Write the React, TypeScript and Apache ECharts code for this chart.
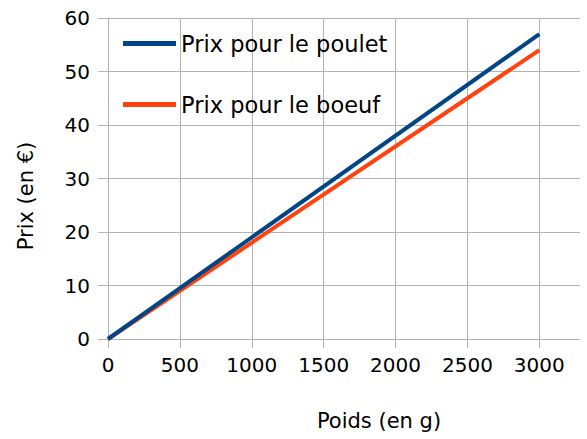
import React, { useEffect, useRef } from "react";
import * as echarts from "echarts";

const weights = [0, 3000];
const chickenPrices = [0, 57];
const beefPrices = [0, 54];
const seriesNames = ["Prix pour le poulet", "Prix pour le boeuf"];
const xTitle = "Poids (en g)";
const yTitle = "Prix (en €)";

const FONT = "DejaVu Sans";
const GRID_COLOR = "#b3b3b3";

export default function App() {
  const ref = useRef<HTMLDivElement>(null);
  useEffect(() => {
    if (!ref.current) return;
    const chart = echarts.init(ref.current, null, { renderer: "svg" });
    const chicken = weights.map((w, i) => [w, chickenPrices[i]]);
    const beef = weights.map((w, i) => [w, beefPrices[i]]);
    chart.setOption({
      animation: false,
      backgroundColor: "#ffffff",
      textStyle: { fontFamily: FONT },
      grid: { left: 108, right: 7, top: 18, bottom: 100, containLabel: false },
      legend: {
        orient: "vertical",
        left: 123,
        top: 32,
        padding: 0,
        itemWidth: 53,
        itemHeight: 5,
        itemGap: 38,
        icon: "rect",
        data: seriesNames,
        textStyle: { fontFamily: FONT, fontSize: 22.5, color: "#000", lineHeight: 22 },
      },
      xAxis: {
        type: "value",
        min: 0,
        max: 3283,
        interval: 500,
        axisLine: { show: true, lineStyle: { color: GRID_COLOR, width: 1 } },
        axisTick: { show: true, length: 9, lineStyle: { color: GRID_COLOR } },
        splitLine: { show: true, showMaxLine: false, lineStyle: { color: GRID_COLOR, width: 1 } },
        axisLabel: {
          margin: 16,
          fontSize: 20,
          color: "#000",
          fontFamily: FONT,
          showMaxLabel: false,
          formatter: (v: number) => (v % 500 === 0 ? String(v) : ""),
        },
      },
      yAxis: {
        type: "value",
        min: 0,
        max: 60,
        interval: 10,
        axisLine: { show: true, lineStyle: { color: GRID_COLOR, width: 1 } },
        axisTick: { show: true, length: 10, lineStyle: { color: GRID_COLOR } },
        splitLine: { show: true, lineStyle: { color: GRID_COLOR, width: 1 } },
        axisLabel: { margin: 18, fontSize: 20, color: "#000", fontFamily: FONT },
      },
      graphic: [
        {
          type: "text",
          x: 379,
          y: 421,
          style: {
            text: xTitle,
            fontSize: 21,
            fontFamily: FONT,
            fill: "#000",
            align: "center",
            verticalAlign: "middle",
          },
        },
        {
          type: "text",
          x: 26,
          y: 196,
          rotation: Math.PI / 2,
          style: {
            text: yTitle,
            fontSize: 21,
            fontFamily: FONT,
            fill: "#000",
            align: "center",
            verticalAlign: "middle",
          },
        },
      ],
      series: [
        {
          name: seriesNames[0],
          type: "line",
          data: chicken,
          showSymbol: false,
          symbol: "none",
          z: 3,
          itemStyle: { color: "#004586" },
          lineStyle: { color: "#004586", width: 4 },
        },
        {
          name: seriesNames[1],
          type: "line",
          data: beef,
          showSymbol: false,
          symbol: "none",
          z: 2,
          itemStyle: { color: "#ff420e" },
          lineStyle: { color: "#ff420e", width: 4 },
        },
      ],
    });
    return () => chart.dispose();
  }, []);
  return <div ref={ref} style={{ width: 587, height: 439, position: "absolute", left: 0, top: 0 }} />;
}
